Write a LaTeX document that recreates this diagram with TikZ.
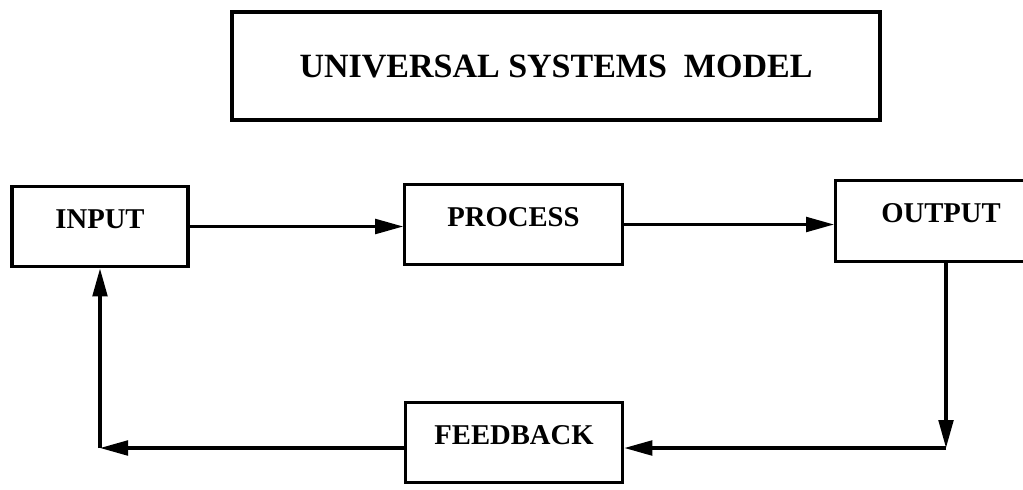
\documentclass[tikz,border=0pt]{standalone}
\usepackage{fontspec}
\setmainfont{Liberation Serif}
\usetikzlibrary{arrows.meta}
\begin{document}
\begin{tikzpicture}[x=0.75pt,y=-0.75pt,line width=2.4pt,
		title box/.style = {draw, inner sep = 0pt, minimum width = 486pt, minimum height = 81pt,
			font=\fontsize{25.5pt}{30pt}\selectfont\bfseries},
		main box/.style = {draw, inner sep = 0pt, text height = 31.5pt, text depth = 29pt,
			font=\fontsize{21.5pt}{25pt}\selectfont\bfseries},
		flow/.style = {-{Triangle[length=21pt,width=11pt]}}]
	
	\useasboundingbox (0,0) rectangle (1023,489);
	\clip (0,0) rectangle (1023,489);
	
	\node[title box] (title) at (556,66) {UNIVERSAL SYSTEMS~~MODEL};
	\node[main box, minimum width = 132pt] (in) at (100,226.5) {INPUT};
	\node[main box, minimum width = 163pt] (proc) at (513.5,224.5) {PROCESS};
	\node[main box, minimum width = 158pt] (out) at (941,221) {OUTPUT};
	\node[main box, minimum width = 163pt] (fb) at (514,442.5) {FEEDBACK};
	\coordinate (c1) at (946,448);
	\coordinate (c2) at (100,448);
	
	\draw[flow] (in.east) -- (in.east -| proc.west);
	\draw[flow] (proc.east) -- (proc.east -| out.west);
	\draw[flow] (c1 |- out.south) -- (c1);
	\draw[flow] (c1) -- (c1 -| fb.east);
	\draw[flow] (fb.west |- c2) -- (c2);
	\draw[flow] (c2) -- (c2 |- in.south);
\end{tikzpicture}
\end{document}
